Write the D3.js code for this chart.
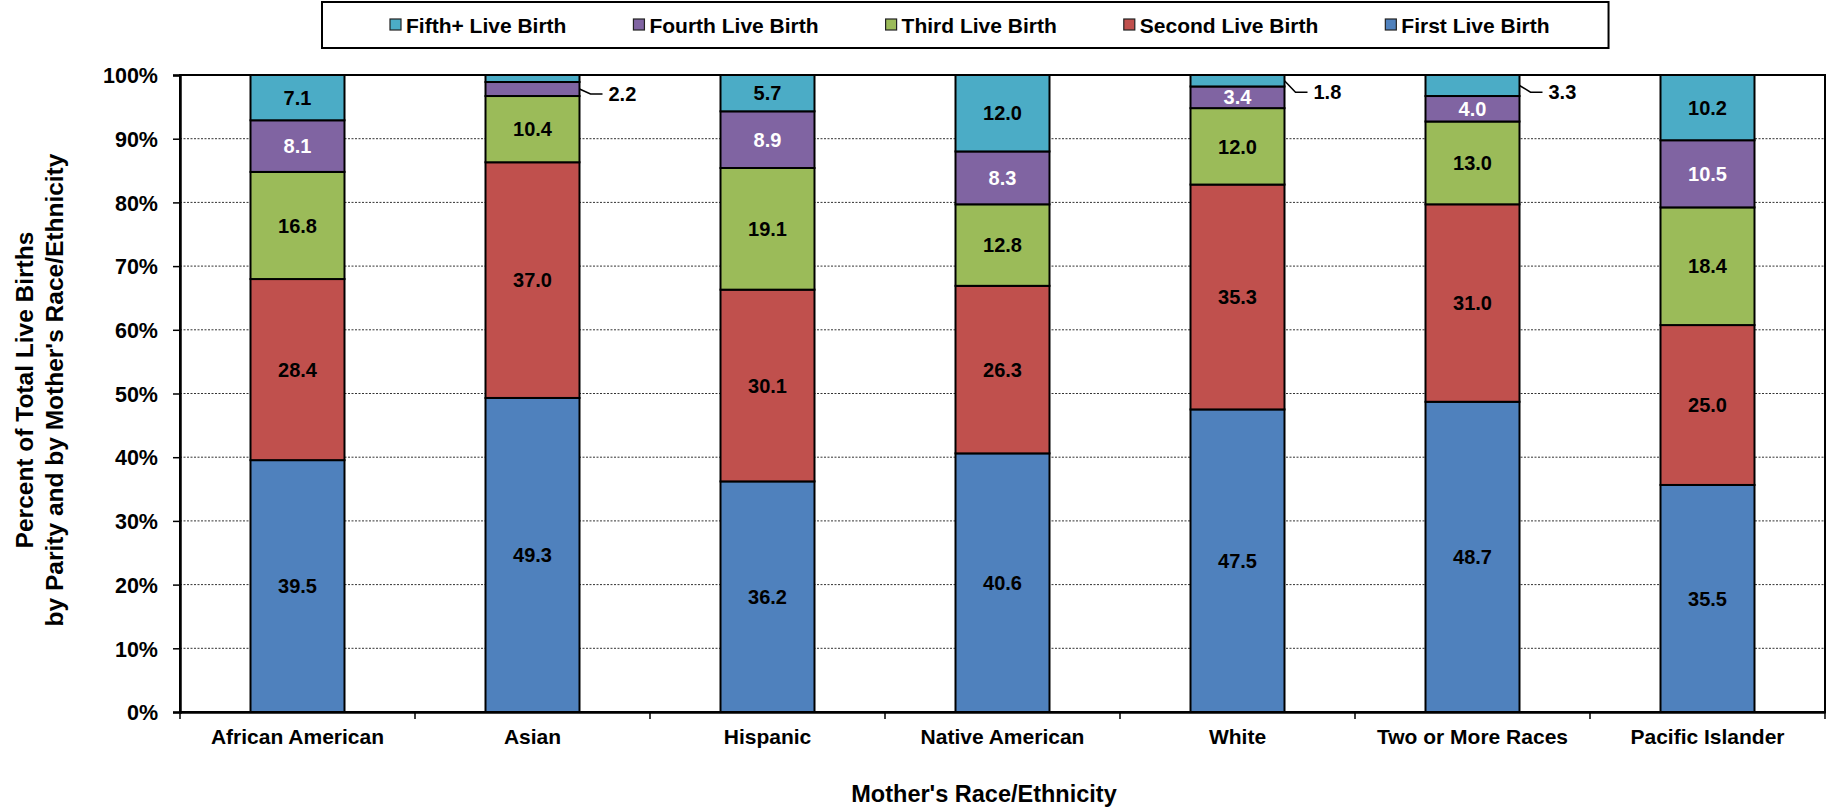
<!DOCTYPE html>
<html><head><meta charset="utf-8">
<script src="https://cdn.jsdelivr.net/npm/d3@7"></script>
<style>
body{margin:0;background:#fff}
text{font-family:"Liberation Sans",Arial,Helvetica,sans-serif;font-weight:bold;fill:#000}
</style>
</head><body>
<svg id="chart" width="1829" height="808"></svg>
<script>
const categories = ["African American","Asian","Hispanic","Native American","White","Two or More Races","Pacific Islander"];
const seriesNames = ["First Live Birth","Second Live Birth","Third Live Birth","Fourth Live Birth","Fifth+ Live Birth"];
const firstBirth  = [39.5, 49.3, 36.2, 40.6, 47.5, 48.7, 35.5];
const secondBirth = [28.4, 37.0, 30.1, 26.3, 35.3, 31.0, 25.0];
const thirdBirth  = [16.8, 10.4, 19.1, 12.8, 12.0, 13.0, 18.4];
const fourthBirth = [ 8.1,  2.2,  8.9,  8.3,  3.4,  4.0, 10.5];
const fifthBirth  = [ 7.1,  1.1,  5.7, 12.0,  1.8,  3.3, 10.2];
const yTickValues = [0,10,20,30,40,50,60,70,80,90,100];
const seriesColors = ["#4F81BD","#C0504D","#9BBB59","#8064A2","#4BACC6"];
const labelColors  = ["#000","#000","#000","#fff","#000"];
const hiddenLabels = [["Asian","Fifth+ Live Birth"]];
const calloutLabels = [["Asian","Fourth Live Birth"],["White","Fifth+ Live Birth"],["Two or More Races","Fifth+ Live Birth"]];
const legendOrder = ["Fifth+ Live Birth","Fourth Live Birth","Third Live Birth","Second Live Birth","First Live Birth"];
const yTitleLines = ["Percent of Total Live Births","by Parity and by Mother's Race/Ethnicity"];
const xTitle = "Mother's Race/Ethnicity";

const seriesValues = [firstBirth, secondBirth, thirdBirth, fourthBirth, fifthBirth];
const rows = categories.map((c,i)=>{
  const r = {category:c};
  seriesNames.forEach((s,j)=>{ r[s] = seriesValues[j][i]; });
  return r;
});

const svg = d3.select("#chart");
const L = 180, R = 1825, T = 75, B = 712;

const x = d3.scaleBand().domain(categories).range([L,R]).paddingInner(0.6).paddingOuter(0.3);
const y = d3.scaleLinear().domain([0,100]).range([B,T]);
const color = d3.scaleOrdinal().domain(seriesNames).range(seriesColors);
const lblColor = d3.scaleOrdinal().domain(seriesNames).range(labelColors);

const stacked = d3.stack().keys(seriesNames).offset(d3.stackOffsetExpand)(rows);

// gridlines
svg.append("g").selectAll("line").data(yTickValues.filter(v=>v>0 && v<100)).join("line")
  .attr("x1",L).attr("x2",R).attr("y1",d=>y(d)).attr("y2",d=>y(d))
  .attr("stroke","#333").attr("stroke-width",1).attr("stroke-dasharray","2,1.5");

// bars
const gs = svg.append("g").selectAll("g").data(stacked).join("g")
  .attr("fill",d=>color(d.key));
gs.selectAll("rect").data(d=>d.map(p=>({key:d.key,p}))).join("rect")
  .attr("x",d=>x(d.p.data.category))
  .attr("width",x.bandwidth())
  .attr("y",d=>y(d.p[1]*100))
  .attr("height",d=>y(d.p[0]*100)-y(d.p[1]*100))
  .attr("stroke","#000").attr("stroke-width",2);

// plot frame
svg.append("rect").attr("x",L).attr("y",T).attr("width",R-L).attr("height",B-T)
  .attr("fill","none").attr("stroke","#000").attr("stroke-width",2);

// y axis
const yAxis = svg.append("g").attr("transform",`translate(${L},0)`)
  .call(d3.axisLeft(y).tickValues(yTickValues).tickFormat(d=>d+"%").tickSize(7).tickPadding(15));
yAxis.select(".domain").attr("stroke","#000").attr("stroke-width",2.5);
yAxis.selectAll(".tick line").attr("stroke","#000").attr("stroke-width",1.5);
yAxis.selectAll("text").attr("font-size",21.5).attr("font-family",null).attr("fill","#000").attr("dy","0.36em");

// x axis
const xAxis = svg.append("g").attr("transform",`translate(0,${B})`)
  .call(d3.axisBottom(x).tickSize(0).tickPadding(17));
xAxis.select(".domain").attr("stroke","#000").attr("stroke-width",2.5);
xAxis.selectAll("text").attr("font-size",21).attr("font-family",null).attr("fill","#000");
const bounds = categories.map(c=>x(c)-x.step()*x.paddingOuter()).concat([R]);
svg.append("g").selectAll("line").data(bounds).join("line")
  .attr("x1",d=>d).attr("x2",d=>d).attr("y1",B).attr("y2",B+7)
  .attr("stroke","#000").attr("stroke-width",1.5);

// data labels
const isIn = (list,c,s)=>list.some(e=>e[0]===c && e[1]===s);
const labels = [];
stacked.forEach(ser=>{
  ser.forEach(p=>{
    const c = p.data.category, s = ser.key;
    if (isIn(hiddenLabels,c,s)) return;
    labels.push({c,s,v:p.data[s],y0:y(p[0]*100),y1:y(p[1]*100),callout:isIn(calloutLabels,c,s)});
  });
});
const lg = svg.append("g");
labels.filter(d=>!d.callout).forEach(d=>{
  lg.append("text").attr("x",x(d.c)+x.bandwidth()/2).attr("y",(d.y0+d.y1)/2)
    .attr("dy","0.36em").attr("text-anchor","middle").attr("font-size",20)
    .style("fill",lblColor(d.s)).text(d3.format(".1f")(d.v));
});
labels.filter(d=>d.callout).forEach(d=>{
  const xr = x(d.c)+x.bandwidth();
  const mid = (d.y0+d.y1)/2;
  const ly = Math.max(mid+5, y(97.3));
  lg.append("path").attr("d",`M${xr},${mid}L${xr+11},${ly}L${xr+23},${ly}`)
    .attr("fill","none").attr("stroke","#000").attr("stroke-width",1.5);
  lg.append("text").attr("x",xr+29).attr("y",ly).attr("dy","0.36em")
    .attr("font-size",20).text(d3.format(".1f")(d.v));
});

// axis titles
svg.append("text").attr("x",984).attr("y",802).attr("text-anchor","middle")
  .attr("font-size",23.5).text(xTitle);
const yt = svg.append("text").attr("transform","translate(33,390) rotate(-90)")
  .attr("text-anchor","middle").attr("font-size",24.5);
yTitleLines.forEach((t,i)=>yt.append("tspan").attr("x",0).attr("y",i*30).text(t));

// legend
const leg = svg.append("g");
const legBox = leg.append("rect").attr("y",2).attr("height",46).attr("fill","#fff")
  .attr("stroke","#000").attr("stroke-width",2);
let cx = 390;
legendOrder.forEach(s=>{
  leg.append("rect").attr("x",cx).attr("y",19).attr("width",11).attr("height",11)
    .attr("fill",color(s)).attr("stroke","#222").attr("stroke-width",1.2);
  const t = leg.append("text").attr("x",cx+16).attr("y",25).attr("dy","0.36em")
    .attr("font-size",21).text(s);
  cx = cx + 16 + t.node().getComputedTextLength() + 67;
});
legBox.attr("x",322).attr("width",cx-67+59-322);
</script>
</body></html>
